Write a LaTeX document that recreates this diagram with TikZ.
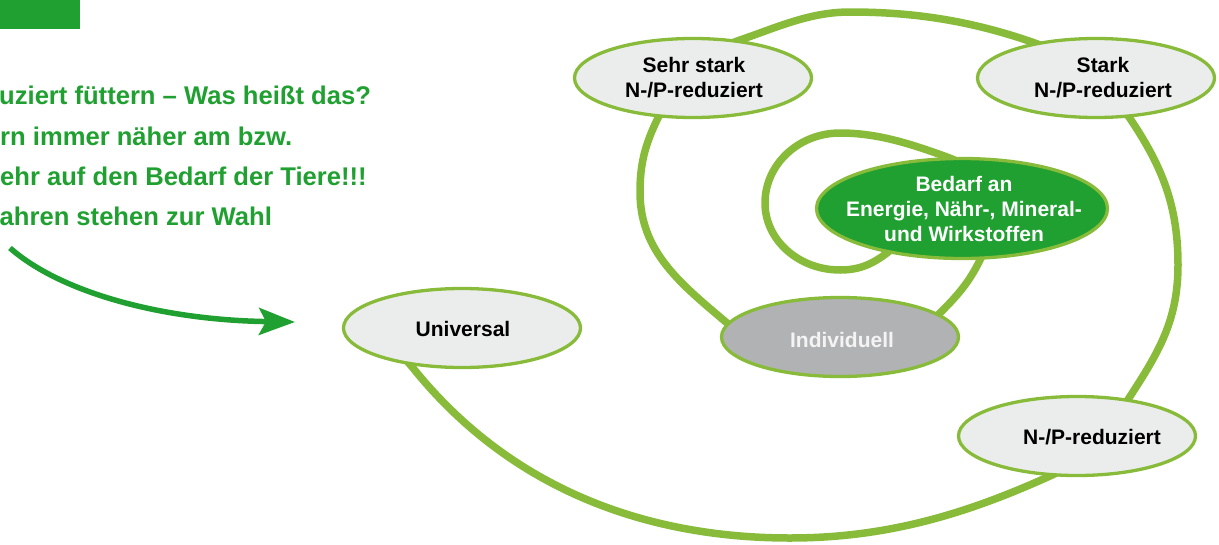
\documentclass[tikz,border=0pt]{standalone}
\usepackage{fontspec}
\setmainfont{Liberation Sans}
\usetikzlibrary{shapes.geometric,arrows.meta,backgrounds}
\definecolor{lgreen}{HTML}{89BB3B}
\definecolor{dgreen}{HTML}{1FA030}
\definecolor{lgray}{HTML}{EBEDEC}
\definecolor{mgray}{HTML}{B1B2B4}
\definecolor{offwhite}{HTML}{F4F4F4}
\begin{document}
\begin{tikzpicture}[x=1pt,y=-1pt,
  oval/.style={ellipse, draw=lgreen, line width=3.3pt, inner sep=0pt,
    minimum width=237pt, minimum height=79pt, fill=lgray},
  lbl/.style={font=\fontsize{21}{25}\selectfont\bfseries, align=center,
    inner sep=0pt, text=black},
  head/.style={font=\fontsize{25.6}{30}\selectfont\bfseries, text=dgreen,
    anchor=base west, inner sep=0pt},
  spiralline/.style={draw=lgreen, line width=7.5pt},
  bigarrow/.style={draw=dgreen, line width=5.5pt,
    -{Stealth[length=36pt, width=27pt, inset=7pt]}}]
\useasboundingbox (0,0) rectangle (1219,544);

% top-left bar
\fill[dgreen] (0,0) rectangle (80,29);

% heading text
\node[head] (h1) at (-1,104) {uziert füttern – Was heißt das?};
\node[head] (h2) at (0,145) {rn immer näher am bzw.};
\node[head] (h3) at (0,185) {ehr auf den Bedarf der Tiere!!!};
\node[head] (h4) at (-0.5,225) {ahren stehen zur Wahl};

% arrow
\coordinate (arrS) at (10,248);
\coordinate (arrE) at (295,322);
\draw[bigarrow] (arrS) .. controls (60,292) and (160,320) .. (arrE);

% ellipses
\node[oval] (sehr) at (693,78) {};
\node[oval] (stark) at (1096,78) {};
\node[oval, fill=dgreen, minimum width=291pt, minimum height=100pt] (bed) at (962,208.5) {};
\node[oval, fill=mgray] (ind) at (840,337) {};
\node[oval] (uni) at (462,328) {};
\node[oval] (np) at (1077,436) {};

% labels
\node[lbl] (sehrT) at (694,77.5) {Sehr stark\\N-/P-reduziert};
\node[lbl] (starkT) at (1103,77.5) {Stark\\N-/P-reduziert};
\node[lbl, text=white] (bedT) at (964,209) {Bedarf an\\Energie, Nähr-, Mineral-\\und Wirkstoffen};
\node[lbl, text=offwhite] (indT) at (842,339.5) {Individuell};
\node[lbl] (uniT) at (463,329) {Universal};
\node[lbl] (npT) at (1092,437) {N-/P-reduziert};

% spiral (drawn behind the ellipses)
\begin{pgfonlayer}{background}
\draw[spiralline]
  (395,347) -- (413,368)
  .. controls (507,485) and (640,538) .. (790,538)
  .. controls (885,538) and (964,515) .. (1050,476)
  .. controls (1086,460) and (1107,432) .. (1129,398)
  .. controls (1159,352) and (1178,320) .. (1178,265)
  .. controls (1178,207) and (1163,168) .. (1131,120)
  .. controls (1109,87) and (1070,55) .. (1032,42)
  .. controls (971,21) and (915,12) .. (850,12)
  .. controls (810,12) and (778,27) .. (740,40)
  .. controls (702,53) and (674,84) .. (657,120)
  .. controls (645,145) and (640,164) .. (640,192)
  .. controls (640,252) and (681,284) .. (727,323)
  .. controls (773,362) and (898,355) .. (940,313)
  .. controls (957.5,295.5) and (969,282.5) .. (980,260)
  .. controls (1001.5,215) and (994,174) .. (947,157)
  .. controls (911,144) and (878,133) .. (840,133)
  .. controls (798.6,133) and (765,164.4) .. (765,203)
  .. controls (765,240) and (798.6,270) .. (840,270)
  .. controls (860,270) and (872.6,263.8) .. (887,253)
  .. controls (899,244) and (905,233) .. (912,225);
\end{pgfonlayer}
\end{tikzpicture}
\end{document}
